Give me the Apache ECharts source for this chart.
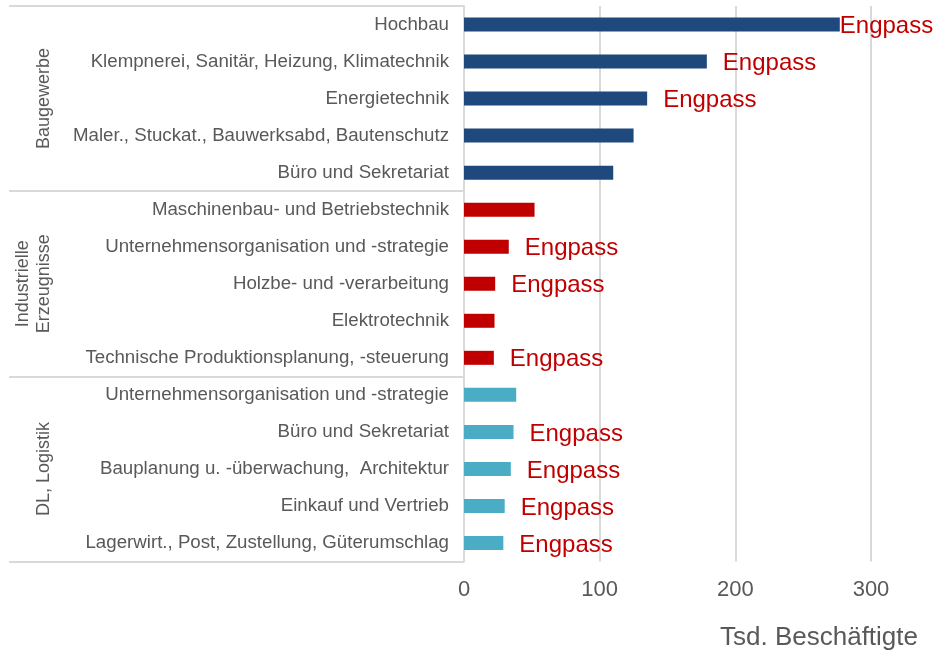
<!DOCTYPE html>
<html>
<head>
<meta charset="utf-8">
<script src="https://cdn.jsdelivr.net/npm/echarts@6/dist/echarts.min.js"></script>
<style>
html, body { margin: 0; padding: 0; background: #fff; }
#chart { width: 934px; height: 654px; }
</style>
</head>
<body>
<div id="chart"></div>
<script>
// Berufe, von oben nach unten
const categories = [
  'Hochbau',
  'Klempnerei, Sanitär, Heizung, Klimatechnik',
  'Energietechnik',
  'Maler., Stuckat., Bauwerksabd, Bautenschutz',
  'Büro und Sekretariat',
  'Maschinenbau- und Betriebstechnik',
  'Unternehmensorganisation und -strategie',
  'Holzbe- und -verarbeitung',
  'Elektrotechnik',
  'Technische Produktionsplanung, -steuerung',
  'Unternehmensorganisation und -strategie ',
  'Büro und Sekretariat ',
  'Bauplanung u. -überwachung,  Architektur',
  'Einkauf und Vertrieb',
  'Lagerwirt., Post, Zustellung, Güterumschlag'
]
// Tsd. Beschäftigte
const values = [277, 179, 135, 125, 110, 52, 33, 23, 22.5, 22, 38.5, 36.5, 34.5, 30, 29]
// Gruppe je Beruf
const groupOf = [0, 0, 0, 0, 0, 1, 1, 1, 1, 1, 2, 2, 2, 2, 2]
const groups = ['Baugewerbe', 'Industrielle\nErzeugnisse', 'DL, Logistik']
// Engpassberuf ja/nein
const engpass = [1, 1, 1, 0, 0, 0, 1, 1, 0, 1, 0, 1, 1, 1, 1]

const groupColors = ['#1f497d', '#c00000', '#4bacc6']
const font = 'Liberation Sans, Arial, sans-serif'
const grey = '#595959'
const lineGrey = '#d9d9d9'

const barData = values.map((v, i) => ({
  value: v,
  itemStyle: { color: groupColors[groupOf[i]] },
  label: {
    show: engpass[i] === 1,
    // der längste Balken hat das Label direkt am Ende
    distance: v > 250 ? 0 : 16
  }
}))

const option = {
  animation: false,
  grid: { left: 464, top: 6, right: 63, bottom: 92.5 },
  xAxis: {
    type: 'value',
    min: 0,
    max: 300,
    interval: 100,
    axisLine: { show: false },
    axisTick: { show: false },
    axisLabel: { color: grey, fontSize: 22, fontFamily: font, margin: 17.5 },
    splitLine: { lineStyle: { color: lineGrey, width: 2 } }
  },
  yAxis: [
    {
      type: 'category',
      data: categories,
      inverse: true,
      axisLine: { show: true, lineStyle: { color: lineGrey, width: 2 } },
      axisTick: { show: false },
      axisLabel: {
        color: grey, fontSize: 18.7, fontFamily: font, margin: 15,
        padding: [2, 0, 0, 0],
        formatter: (s) => s.trim()
      }
    },
    {
      // Gruppen mit Trennlinien
      type: 'category',
      data: groups,
      inverse: true,
      position: 'left',
      axisLine: { show: false },
      axisTick: { show: true, length: 455, lineStyle: { color: lineGrey, width: 2 } },
      axisLabel: {
        color: grey, fontSize: 18, fontFamily: font, lineHeight: 21,
        rotate: 90, margin: 409
      }
    }
  ],
  series: [
    {
      type: 'bar',
      data: barData,
      barWidth: 14,
      label: {
        position: 'right',
        formatter: 'Engpass',
        color: '#c00000',
        fontSize: 24,
        fontFamily: font,
        offset: [0, 2]
      }
    }
  ],
  graphic: [
    {
      type: 'text',
      right: 16,
      top: 625,
      style: { text: 'Tsd. Beschäftigte', fill: grey, fontSize: 26, fontFamily: font }
    }
  ]
}

const myChart = echarts.init(document.getElementById('chart'))
myChart.setOption(option)
window.addEventListener('resize', () => {
  myChart.resize()
})
</script>
</body>
</html>
